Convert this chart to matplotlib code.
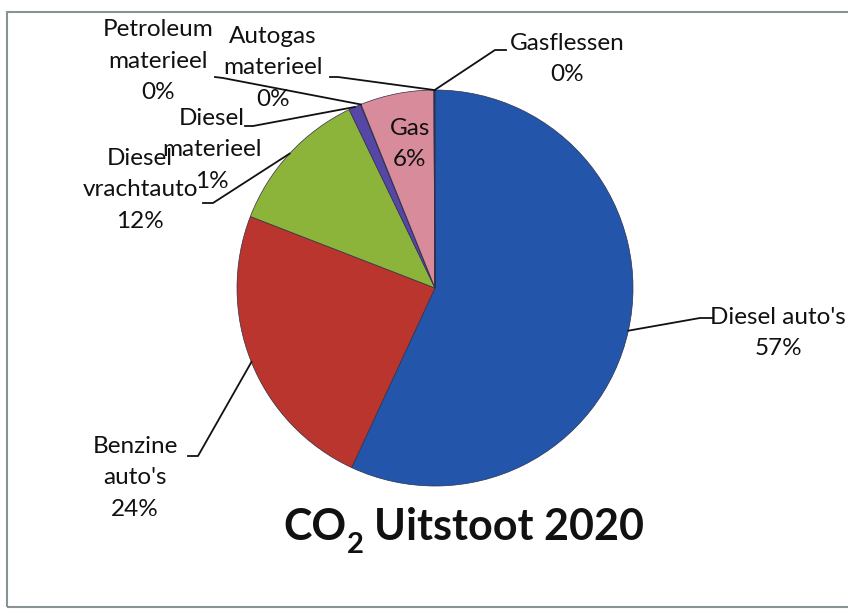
import matplotlib.pyplot as plt
from matplotlib.patches import Rectangle
import numpy as np

# slice order: clockwise from 12 o'clock, as in the Excel chart
categories = ["Diesel auto's", "Benzine\nauto's", "Diesel\nvrachtauto", "Diesel\nmaterieel",
              "Petroleum\nmaterieel", "Gas", "Autogas\nmaterieel", "Gasflessen"]
shares = [57.0, 24.0, 12.0, 1.0, 0.05, 6.0, 0.05, 0.05]
colors = ['#2356aa', '#b9352d', '#8cb43a', '#5647a6', '#3f8fa8', '#d88b9b', '#9fb6d6', '#e39a4a']

W, H = 848, 614


def px(x, y):
    # pixel position (top-left origin) -> data coords
    return (x, H - y)


# label layout: text centre, start of the leader stub, elbow of the leader (pixels)
label_pos = [(778, 333), (135, 478), (140, 190), (212, 150), (158, 61), (410, 144), (273, 68), (567, 59)]
stub_start = [(712, 318), (188, 456), (203, 203), (245, 126), (215, 77), None, (330, 77), (506, 50)]
stub_elbow = [(700, 318), (198, 456), (213, 203), (253, 126), (223, 78), None, (338, 77), (495, 50)]

plt.rcParams['font.family'] = ['Lato', 'DejaVu Sans']

fig = plt.figure(figsize=(W / 100, H / 100), dpi=100)
ax = fig.add_axes([0, 0, 1, 1])

cx, cy = px(435, 288)
r = 198
wedges, _ = ax.pie(shares, colors=colors, startangle=90, counterclock=False,
                   center=(cx, cy), radius=r,
                   wedgeprops=dict(linewidth=0.5, edgecolor='#30304a'))

ax.set_xlim(0, W)
ax.set_ylim(0, H)
ax.set_aspect('equal')
ax.axis('off')

total = sum(shares)
for i, (w, name) in enumerate(zip(wedges, categories)):
    pct = int(round(shares[i] / total * 100))
    tx, ty = px(*label_pos[i])
    ax.text(tx, ty, f"{name}\n{pct}%", ha='center', va='center', fontsize=17.5,
            linespacing=1.62, color='#111111')
    if stub_start[i] is None:
        continue
    ang = np.deg2rad((w.theta1 + w.theta2) / 2)
    ex, ey = cx + r * np.cos(ang), cy + r * np.sin(ang)
    (sx, sy), (bx, by) = px(*stub_start[i]), px(*stub_elbow[i])
    ax.plot([sx, bx, ex], [sy, by, ey], color='#111111', lw=1.3)

# title, with a dropped subscript like the Excel text box
fig.canvas.draw()
renderer = fig.canvas.get_renderer()
tstyle = dict(fontsize=31, fontweight='bold', color='#111111', va='baseline', ha='left')
x0, base = 283, 540
t1 = ax.text(*px(x0, base), "CO", **tstyle)
bb = t1.get_window_extent(renderer)
x1 = x0 + bb.width + 1
t2 = ax.text(*px(x1, base + 13), "2", **{**tstyle, 'fontsize': 21})
bb2 = t2.get_window_extent(renderer)
ax.text(*px(x1 + bb2.width + 10, base), "Uitstoot 2020", **tstyle)

# scanned chart frame
ax.add_patch(Rectangle(px(7, 607), 900, 595, fill=False, edgecolor='#8a9296', lw=1.5))

fig.savefig('out.png', dpi=100)
